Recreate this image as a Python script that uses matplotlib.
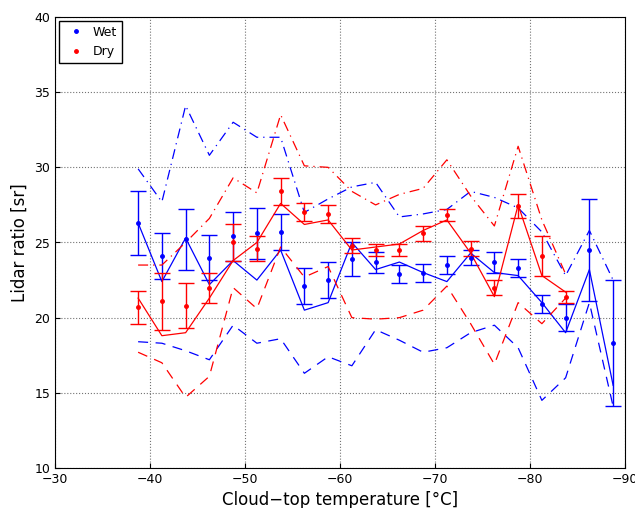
import numpy as np
import matplotlib.pyplot as plt
from matplotlib.lines import Line2D

temp_wet = [-38.75 - 2.5 * i for i in range(21)]
temp_dry = temp_wet[:19]

wet_mean = [26.3, 24.1, 25.2, 24.0, 25.4, 25.6, 25.7, 22.1, 22.5, 23.9, 23.7,
            22.9, 23.0, 23.5, 24.0, 23.7, 23.3, 20.9, 20.0, 24.5, 18.3]
wet_err = [2.1, 1.5, 2.0, 1.5, 1.6, 1.7, 1.2, 1.2, 1.2, 1.1, 0.7,
           0.6, 0.6, 0.6, 0.5, 0.7, 0.6, 0.6, 0.9, 3.4, 4.2]
wet_median = [26.3, 22.4, 25.3, 22.2, 23.8, 22.5, 24.5, 20.5, 21.0, 25.0, 23.2,
              23.7, 23.0, 22.4, 24.3, 23.0, 22.8, 21.0, 19.0, 23.2, 15.5]
wet_upper = [29.9, 27.7, 34.1, 30.8, 33.0, 32.0, 32.0, 27.0, 27.9, 28.7, 29.0,
             26.7, 26.9, 27.2, 28.4, 28.0, 27.3, 25.7, 22.8, 25.8, 22.5]
wet_lower = [18.4, 18.3, 17.8, 17.2, 19.5, 18.3, 18.6, 16.3, 17.4, 16.8, 19.2,
             18.5, 17.7, 18.0, 19.0, 19.5, 18.0, 14.5, 16.0, 21.0, 14.1]

dry_mean = [20.7, 21.1, 20.8, 22.0, 25.0, 24.6, 28.4, 27.0, 26.9, 24.8,
            24.5, 24.5, 25.6, 26.8, 24.6, 22.0, 27.4, 24.1, 21.4]
dry_err = [1.1, 1.9, 1.5, 1.0, 1.2, 0.8, 0.9, 0.6, 0.6, 0.5,
           0.4, 0.4, 0.5, 0.4, 0.5, 0.5, 0.8, 1.3, 0.4]
dry_median = [21.3, 18.8, 19.0, 21.3, 23.8, 25.0, 27.6, 26.2, 26.5, 24.5,
              24.7, 24.9, 25.8, 26.5, 24.3, 21.4, 27.5, 22.8, 21.7]
dry_upper = [23.5, 23.5, 25.0, 26.6, 29.3, 28.3, 33.5, 30.1, 30.0, 28.4,
             27.5, 28.2, 28.6, 30.5, 28.1, 26.1, 31.4, 26.5, 22.9]
dry_lower = [17.7, 17.0, 14.7, 16.1, 22.0, 20.6, 24.7, 22.7, 23.4, 20.0,
             19.9, 20.0, 20.5, 22.1, 19.6, 16.9, 21.0, 19.6, 21.3]

fig = plt.figure(figsize=(6.35, 5.08), dpi=100)
ax = fig.add_axes([55 / 635, 40 / 508, 570 / 635, 451 / 508])

handles = []
for t, m, e, md, up, lo, c, lab in [
        (temp_wet, wet_mean, wet_err, wet_median, wet_upper, wet_lower, 'b', 'Wet'),
        (temp_dry, dry_mean, dry_err, dry_median, dry_upper, dry_lower, 'r', 'Dry')]:
    ax.errorbar(t, m, yerr=e, fmt='.', color=c, capsize=6, capthick=1,
                elinewidth=1, markersize=5)
    ax.plot(t, md, '-', color=c, lw=0.9)
    ax.plot(t, up, '-.', color=c, lw=0.9, dashes=(8, 4, 1, 4))
    ax.plot(t, lo, '--', color=c, lw=0.9, dashes=(8, 6))
    handles.append(Line2D([], [], marker='.', ls='none', color=c, markersize=5, label=lab))

ax.set_xlim(-30, -90)
ax.set_ylim(10, 40)
ax.set_xticks(np.arange(-30, -91, -10))
ax.set_yticks(np.arange(10, 41, 5))
ax.grid(True, linestyle=':', color='0.45', lw=0.8)
ax.tick_params(labelsize=9, direction='in')
ax.set_xlabel('Cloud\u2212top temperature [°C]', fontsize=12)
ax.set_ylabel('Lidar ratio [sr]', fontsize=12)
ax.legend(handles=handles, loc='upper left', numpoints=1, fontsize=9, fancybox=False,
          framealpha=1, edgecolor='k', handletextpad=0.3, borderaxespad=0.3)

fig.savefig('out.png', dpi=100)
